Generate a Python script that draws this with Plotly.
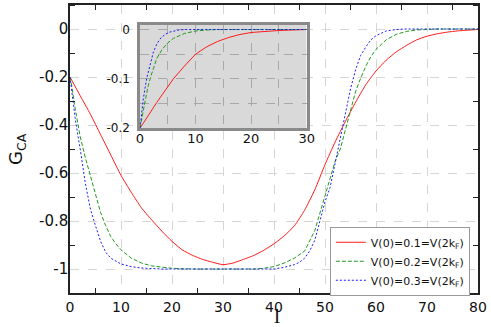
import plotly.graph_objects as go

# main curves: G_CA vs l
l_red = [0, 2, 4, 6, 8, 10, 12, 14, 16, 18, 20, 22, 24, 26, 28, 30,
         32, 34, 36, 38, 40, 42, 44, 46, 48, 50, 52, 54, 56, 58, 60,
         62, 64, 66, 68, 70, 72, 74, 76, 78, 80]
g_red = [-0.2, -0.278, -0.355, -0.44, -0.525, -0.61, -0.68, -0.745, -0.795, -0.842,
         -0.885, -0.92, -0.943, -0.96, -0.972, -0.982,
         -0.975, -0.96, -0.944, -0.922, -0.895, -0.862, -0.82, -0.755, -0.67, -0.565,
         -0.47, -0.385, -0.305, -0.232, -0.175,
         -0.13, -0.095, -0.068, -0.045, -0.03, -0.02, -0.013, -0.008, -0.005, -0.002]

l_green = [0, 0.4, 1, 2, 3, 4, 5, 6, 7, 8, 9, 10, 12, 14, 16, 18, 20, 22, 24,
           36, 38, 40, 42, 44, 46, 48, 50, 52, 53, 54, 55, 56, 57, 58, 59, 60,
           62, 64, 66, 68, 70, 72, 80]
g_green = [-0.2, -0.243, -0.33, -0.449, -0.535, -0.614, -0.69, -0.765, -0.82, -0.865,
           -0.895, -0.92, -0.955, -0.975, -0.987, -0.993, -0.997, -0.999, -1.0,
           -1.0, -0.997, -0.99, -0.975, -0.955, -0.925, -0.84, -0.7, -0.55, -0.5,
           -0.42, -0.335, -0.26, -0.205, -0.155, -0.115, -0.085,
           -0.045, -0.022, -0.01, -0.004, -0.002, 0.0, 0.0]

l_blue = [0, 0.4, 1, 1.7, 2, 3, 4, 5, 6, 7, 8, 10, 12, 14, 16, 18,
          40, 42, 44, 45, 46, 47, 48, 49, 50, 51, 52, 53, 54, 55, 56, 57, 58, 59, 60,
          62, 64, 66, 80]
g_blue = [-0.2, -0.27, -0.37, -0.463, -0.5, -0.642, -0.75, -0.82, -0.885, -0.93, -0.955,
          -0.979, -0.99, -0.996, -0.999, -1.0,
          -1.0, -0.993, -0.982, -0.972, -0.955, -0.925, -0.88, -0.8, -0.72, -0.66,
          -0.56, -0.465, -0.35, -0.25, -0.17, -0.11, -0.075, -0.045, -0.028,
          -0.008, -0.002, 0.0, 0.0]

# inset curves
li_red = [0, 1, 2, 3, 4, 5, 6, 8, 10, 12, 14, 16, 18, 20, 22, 25, 30]
gi_red = [-0.2, -0.182, -0.165, -0.148, -0.132, -0.115, -0.1, -0.074, -0.05,
          -0.035, -0.024, -0.016, -0.01, -0.006, -0.004, -0.002, 0.0]
li_green = [0, 0.3, 1, 1.5, 2, 3, 4, 5, 6, 8, 10, 12, 14, 30]
gi_green = [-0.2, -0.18, -0.14, -0.113, -0.093, -0.059, -0.04, -0.027, -0.018,
            -0.008, -0.003, -0.001, 0.0, 0.0]
li_blue = [0, 0.3, 0.6, 1.2, 2, 2.4, 3, 3.6, 4.5, 5.4, 7, 8, 30]
gi_blue = [-0.2, -0.166, -0.14, -0.099, -0.062, -0.046, -0.03, -0.019, -0.01,
           -0.005, -0.001, 0.0, 0.0]

names = ["V(0)=0.1=V(2k<sub>F</sub>)", "V(0)=0.2=V(2k<sub>F</sub>)", "V(0)=0.3=V(2k<sub>F</sub>)"]
colors = ["#ff1a1a", "#1f9a1f", "#1a1aff"]
dashes = ["solid", "4px,2px", "2px,2px"]
shapes_ = ["spline", "linear", "linear"]

font = "DejaVu Sans"

fig = go.Figure()
for xs, ys, n, c, d, s in zip([l_red, l_green, l_blue], [g_red, g_green, g_blue], names, colors, dashes, shapes_):
    fig.add_trace(go.Scatter(x=xs, y=ys, mode="lines", name=n,
                             line=dict(color=c, width=1, dash=d, shape=s, smoothing=0.5)))
for xs, ys, c, d in zip([li_red, li_green, li_blue], [gi_red, gi_green, gi_blue], colors, dashes):
    fig.add_trace(go.Scatter(x=xs, y=ys, mode="lines", showlegend=False,
                             xaxis="x2", yaxis="y2",
                             line=dict(color=c, width=1, dash=d)))

grid_main = dict(showgrid=True, gridcolor="#d6d6d6", griddash="dash", gridwidth=1,
                 showline=True, linecolor="#222", linewidth=1.5, mirror="allticks",
                 ticks="", zeroline=False, ticklabeloverflow="allow")

fig.update_layout(
    width=491, height=327,
    margin=dict(l=70, r=13, t=3, b=34),
    paper_bgcolor="white", plot_bgcolor="white",
    xaxis=dict(range=[0, 80], dtick=10,
               minor=dict(dtick=5, ticks="inside", ticklen=5, tickcolor="#222", showgrid=False),
               ticklabelstandoff=0, tickfont=dict(family=font, size=14, color="#111"),
               **grid_main),
    yaxis=dict(range=[-1.1, 0.1], tickvals=[0, -0.2, -0.4, -0.6, -0.8, -1],
               ticktext=["0", "-0.2", "-0.4", "-0.6", "-0.8", "-1"],
               minor=dict(tickvals=[0.1, -0.1, -0.3, -0.5, -0.7, -0.9, -1.1], ticks="inside",
                          ticklen=5, tickcolor="#222", showgrid=False),
               ticklabelstandoff=-3, tickfont=dict(family=font, size=15, color="#111"),
               **grid_main),
    xaxis2=dict(domain=[0.1716, 0.58], anchor="y2", range=[0, 30],
                tickvals=[0, 5, 10, 15, 20, 25, 30], ticktext=["0", "", "10", "", "20", "", "30"],
                showgrid=True, gridcolor="#a8a8a8", griddash="dash", gridwidth=1,
                showline=True, linecolor="#8a8a8a", linewidth=2.5, mirror=True,
                ticks="", zeroline=False, ticklabelstandoff=-4,
                tickfont=dict(family=font, size=13, color="#111")),
    yaxis2=dict(domain=[0.572, 0.932], anchor="x2", range=[-0.2, 0.01],
                tickvals=[0, -0.05, -0.1, -0.15, -0.2], ticktext=["0", "", "-0.1", "", "-0.2"],
                showgrid=True, gridcolor="#a8a8a8", griddash="dash", gridwidth=1,
                showline=True, linecolor="#8a8a8a", linewidth=2.5, mirror=True,
                ticks="", zeroline=False, ticklabelstandoff=5,
                tickfont=dict(family=font, size=12, color="#111")),
    legend=dict(x=0.98, y=0.23, xanchor="right", yanchor="top",
                bgcolor="white", bordercolor="#9a9a9a", borderwidth=1,
                font=dict(family=font, size=11, color="#111"), tracegroupgap=0),
    shapes=[dict(type="rect", xref="x2", yref="y2", x0=0, x1=30, y0=-0.2, y1=0.01,
                 fillcolor="#d9d9d9", line=dict(width=0), layer="below")],
    annotations=[
        dict(text="G<sub>CA</sub>", xref="paper", yref="paper", x=-0.13, y=0.5,
             xanchor="center", yanchor="middle",
             textangle=-90, showarrow=False, font=dict(family=font, size=18, color="#111")),
        dict(text="l", xref="paper", yref="paper", x=0.507, y=-0.078, yanchor="middle",
             showarrow=False, font=dict(family="Liberation Serif", size=22, color="#111")),
    ],
)

fig.write_html("out.html", config={"displayModeBar": False},
               post_script="document.body.style.margin = '0';")
